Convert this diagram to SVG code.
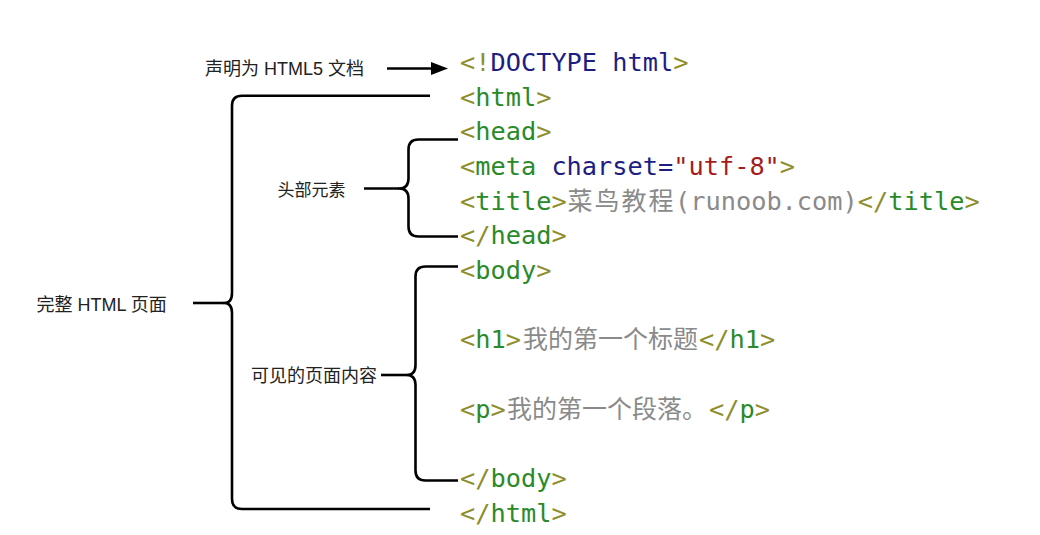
<svg xmlns="http://www.w3.org/2000/svg" width="1040" height="535" viewBox="0 0 1040 535">
  <style>
    .lbl { font-family: "Liberation Sans", "Noto Sans CJK SC", sans-serif; font-size: 18px; fill: #222; }
    .code { font-family: "DejaVu Sans Mono", "Noto Sans CJK SC", monospace; font-size: 25.3px; }
    .cjk { font-family: "Noto Sans CJK SC", sans-serif; font-size: 25px; fill: #8a8a8a; }
    .p { fill: #8e8e2c; }
    .t { fill: #2a8a2a; }
    .k { fill: #1d1d82; }
    .s { fill: #a51c1c; }
    .g { fill: #8a8a8a; }
    .br { fill: none; stroke: #000; stroke-width: 2.6; stroke-linejoin: round; }
  </style>
  <defs>
    <marker id="arrow" viewBox="0 0 17 13" refX="9" refY="6.5" markerWidth="17" markerHeight="13" markerUnits="userSpaceOnUse" orient="auto">
      <path d="M0,0 L17,6.5 L0,13 z" fill="#000"/>
    </marker>
  </defs>
  <rect width="1040" height="535" fill="#fff"/>

  <g id="connectors">
    <line class="br" x1="387" y1="68.5" x2="440" y2="68.5" marker-end="url(#arrow)"/>
    <path class="br" d="M430,95.7 H242 Q232,95.7 232,105.7 V293 Q232,303 224,303 Q232,303 232,313 V499 Q232,509 242,509 H430"/>
    <path class="br" d="M193,303 H224"/>
    <path class="br" d="M458,139.5 H418.5 Q408.5,139.5 408.5,149.5 V178.5 Q408.5,188.5 399,188.5 Q408.5,188.5 408.5,198.5 V226.5 Q408.5,236.5 418.5,236.5 H458"/>
    <path class="br" d="M364,188.5 H399"/>
    <path class="br" d="M458,266.5 H425.5 Q415.5,266.5 415.5,276.5 V365 Q415.5,375 406.5,375 Q415.5,375 415.5,385 V470.5 Q415.5,480.5 425.5,480.5 H458"/>
    <path class="br" d="M381,375 H406.5"/>
  </g>

  <g id="label-doctype"><text class="lbl" x="205" y="74.5">声明为 HTML5 文档</text></g>
  <g id="label-page"><text class="lbl" x="36.5" y="310.5">完整 HTML 页面</text></g>
  <g id="label-head"><text class="lbl" x="277.5" y="196" style="font-size:17px">头部元素</text></g>
  <g id="label-body"><text class="lbl" x="251" y="382">可见的页面内容</text></g>

  <g id="code">
    <text class="code" x="460" y="71"><tspan class="p">&lt;!</tspan><tspan class="k">DOCTYPE html</tspan><tspan class="p">&gt;</tspan></text>
    <text class="code" x="460" y="105.7"><tspan class="p">&lt;</tspan><tspan class="t">html</tspan><tspan class="p">&gt;</tspan></text>
    <text class="code" x="460" y="140.3"><tspan class="p">&lt;</tspan><tspan class="t">head</tspan><tspan class="p">&gt;</tspan></text>
    <text class="code" x="460" y="175"><tspan class="p">&lt;</tspan><tspan class="t">meta</tspan><tspan class="k"> charset=</tspan><tspan class="s">"utf-8"</tspan><tspan class="p">&gt;</tspan></text>
    <text class="code" x="460" y="209.7"><tspan class="p">&lt;</tspan><tspan class="t">title</tspan><tspan class="p">&gt;</tspan></text>
    <text class="cjk" x="567.5" y="209.7" style="letter-spacing:2px">菜鸟教程</text>
    <text class="code" x="675" y="209.7"><tspan class="g">(runoob.com)</tspan><tspan class="p">&lt;/</tspan><tspan class="t">title</tspan><tspan class="p">&gt;</tspan></text>
    <text class="code" x="460" y="244.3"><tspan class="p">&lt;/</tspan><tspan class="t">head</tspan><tspan class="p">&gt;</tspan></text>
    <text class="code" x="460" y="279"><tspan class="p">&lt;</tspan><tspan class="t">body</tspan><tspan class="p">&gt;</tspan></text>
    <text class="code" x="460" y="348.4"><tspan class="p">&lt;</tspan><tspan class="t">h1</tspan><tspan class="p">&gt;</tspan></text>
    <text class="cjk" x="523" y="348.4">我的第一个标题</text>
    <text class="code" x="699" y="348.4"><tspan class="p">&lt;/</tspan><tspan class="t">h1</tspan><tspan class="p">&gt;</tspan></text>
    <text class="code" x="460" y="417.7"><tspan class="p">&lt;</tspan><tspan class="t">p</tspan><tspan class="p">&gt;</tspan></text>
    <text class="cjk" x="507" y="417.7">我的第一个段落。</text>
    <text class="code" x="709" y="417.7"><tspan class="p">&lt;/</tspan><tspan class="t">p</tspan><tspan class="p">&gt;</tspan></text>
    <text class="code" x="460" y="487"><tspan class="p">&lt;/</tspan><tspan class="t">body</tspan><tspan class="p">&gt;</tspan></text>
    <text class="code" x="460" y="521.7"><tspan class="p">&lt;/</tspan><tspan class="t">html</tspan><tspan class="p">&gt;</tspan></text>
  </g>
</svg>
